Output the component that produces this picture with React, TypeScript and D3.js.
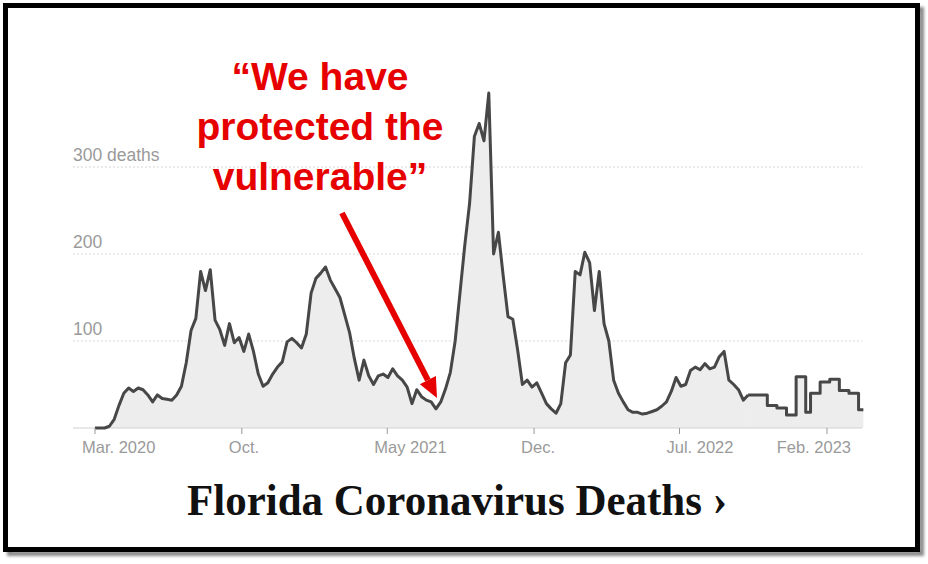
import React, { FC, useMemo } from "react";
import * as d3 from "d3";

// weekly readings, first week starting Mar 1 2020
const startDate = new Date(2020, 2, 1);

// 7-day average deaths while Florida reported daily (weeks 0..136)
const dailyEraDeaths = [
  0, 0, 0, 2, 10, 26, 40, 46, 42, 46,
  44, 38, 30, 38, 34, 33, 32, 38, 48, 75,
  112, 126, 180, 158, 182, 124, 113, 95, 120, 98,
  104, 88, 108, 88, 62, 48, 52, 62, 70, 76,
  99, 103, 98, 92, 108, 155, 172, 178, 185, 170,
  160, 150, 130, 110, 80, 55, 78, 60, 50, 60,
  62, 58, 68, 60, 55, 47, 28, 44, 36, 32,
  30, 22, 30, 45, 64, 100, 155, 210, 258, 335,
  350, 330, 385, 200, 225, 175, 128, 125, 90, 50,
  55, 47, 52, 40, 28, 22, 17, 28, 75, 84,
  180, 176, 202, 190, 135, 180, 120, 100, 55, 40,
  30, 21, 18, 18, 16, 17, 19, 21, 25, 30,
  42, 58, 48, 50, 66, 70, 67, 74, 68, 70,
  82, 88, 55, 50, 44, 32, 38,
];

// later weekly reporting (weeks 136..160), drawn as steps
const weeklyStartWeek = 136;
const weeklyReportDeaths = [
  38, 38, 38, 38, 26, 26, 23, 23, 15, 15,
  59, 59, 18, 40, 40, 53, 53, 56, 56, 43,
  43, 40, 40, 21, 21,
];

const gridValues = [100, 200, 300];
const gridLabels = ["100", "200", "300 deaths"];

const tickDates = [
  new Date(2020, 2, 1),
  new Date(2020, 9, 1),
  new Date(2021, 4, 1),
  new Date(2021, 11, 1),
  new Date(2022, 6, 1),
  new Date(2023, 1, 1),
];
const tickLabels = ["Mar. 2020", "Oct.", "May 2021", "Dec.", "Jul. 2022", "Feb. 2023"];

const annotationLines = ["\u201cWe have", "protected the", "vulnerable\u201d"];
const title = "Florida Coronavirus Deaths \u203a";

const W = 928;
const H = 564;
const plotLeft = 73;
const plotRight = 862;
const red = "#e60000";
const sans = "Liberation Sans, Arial, sans-serif";

const weekDate = (i: number) => d3.timeDay.offset(startDate, i * 7);

const App: FC = () => {
  const x = useMemo(
    () =>
      d3
        .scaleTime()
        .domain([new Date(2020, 2, 1), new Date(2023, 1, 1)])
        .range([95, 827]),
    []
  );
  const y = useMemo(() => d3.scaleLinear().domain([0, 300]).range([428, 167]), []);

  const dailyPts = dailyEraDeaths.map((v, i) => ({ date: weekDate(i), value: v }));
  const weeklyPts = weeklyReportDeaths.map((v, i) => ({
    date: weekDate(weeklyStartWeek + i),
    value: v,
  }));

  const line = d3
    .line<any>()
    .x((d) => x(d.date))
    .y((d) => y(d.value));
  const area = d3
    .area<any>()
    .x((d) => x(d.date))
    .y0(y(0))
    .y1((d) => y(d.value));

  const dailyLine = line.curve(d3.curveLinear)(dailyPts) as string;
  const dailyArea = area.curve(d3.curveLinear)(dailyPts) as string;
  const weeklyLine = line.curve(d3.curveStepAfter)(weeklyPts) as string;
  const weeklyArea = area.curve(d3.curveStepAfter)(weeklyPts) as string;

  // arrow geometry
  const ax0 = 342, ay0 = 213, ax1 = 437, ay1 = 398;
  const ang = Math.atan2(ay1 - ay0, ax1 - ax0);
  const headLen = 20, headHalf = 9;
  const bx = ax1 - headLen * Math.cos(ang);
  const by = ay1 - headLen * Math.sin(ang);
  const px = -Math.sin(ang) * headHalf;
  const py = Math.cos(ang) * headHalf;

  return (
    <svg
      width={W}
      height={H}
      viewBox={`0 0 ${W} ${H}`}
      style={{ position: "absolute", left: 0, top: 0, background: "#fff" }}
    >
      <defs>
        <filter id="shadow" x="-5%" y="-5%" width="110%" height="110%">
          <feGaussianBlur stdDeviation="1.5" />
        </filter>
      </defs>
      <rect x={0} y={0} width={W} height={H} fill="#fff" />

      {/* frame with drop shadow */}
      <rect
        x={9.5}
        y={9.5}
        width={912}
        height={544}
        fill="none"
        stroke="#8a8a8a"
        strokeWidth={5}
        filter="url(#shadow)"
      />
      <rect x={5.5} y={5.5} width={912} height={544} fill="#fff" stroke="#000" strokeWidth={5} />

      {/* gridlines */}
      {gridValues.map((v, i) => (
        <g key={v}>
          <line
            x1={plotLeft}
            x2={plotRight}
            y1={y(v)}
            y2={y(v)}
            stroke="#d6d6d6"
            strokeDasharray="2,2"
          />
          <text x={plotLeft} y={y(v) - 6} fill="#9a9a9a" fontFamily={sans} fontSize={17.5}>
            {gridLabels[i]}
          </text>
        </g>
      ))}

      {/* area + line */}
      <path d={dailyArea} fill="#ededed" />
      <path d={weeklyArea} fill="#ededed" />
      <line x1={plotLeft} x2={plotRight} y1={y(0)} y2={y(0)} stroke="#d0d0d0" />
      <path d={dailyLine} fill="none" stroke="#474747" strokeWidth={3} strokeLinejoin="round" />
      <path d={weeklyLine} fill="none" stroke="#474747" strokeWidth={3} strokeLinejoin="round" />

      {/* x ticks */}
      {tickDates.map((d, i) => {
        const last = i === tickDates.length - 1;
        return (
          <g key={i}>
            <line x1={x(d)} x2={x(d)} y1={y(0)} y2={y(0) + 6} stroke="#999" />
            <text
              x={last ? x(d) + 24 : x(d) - 13}
              y={453}
              textAnchor={last ? "end" : "start"}
              fill="#9a9a9a"
              fontFamily={sans}
              fontSize={16.5}
            >
              {tickLabels[i]}
            </text>
          </g>
        );
      })}

      {/* annotation */}
      {annotationLines.map((t, i) => (
        <text
          key={i}
          x={320}
          y={90 + i * 50}
          textAnchor="middle"
          fill={red}
          fontFamily={sans}
          fontWeight="bold"
          fontSize={39}
        >
          {t}
        </text>
      ))}
      <line x1={ax0} y1={ay0} x2={bx} y2={by} stroke={red} strokeWidth={6} />
      <polygon
        points={`${ax1},${ay1} ${bx + px},${by + py} ${bx - px},${by - py}`}
        fill={red}
      />

      {/* title */}
      <text
        x={187}
        y={515}
        fill="#111"
        fontFamily="Liberation Serif, Times New Roman, serif"
        fontWeight="bold"
        fontSize={44}
        textLength={540}
        lengthAdjust="spacingAndGlyphs"
      >
        {title}
      </text>
    </svg>
  );
};

export default App;
